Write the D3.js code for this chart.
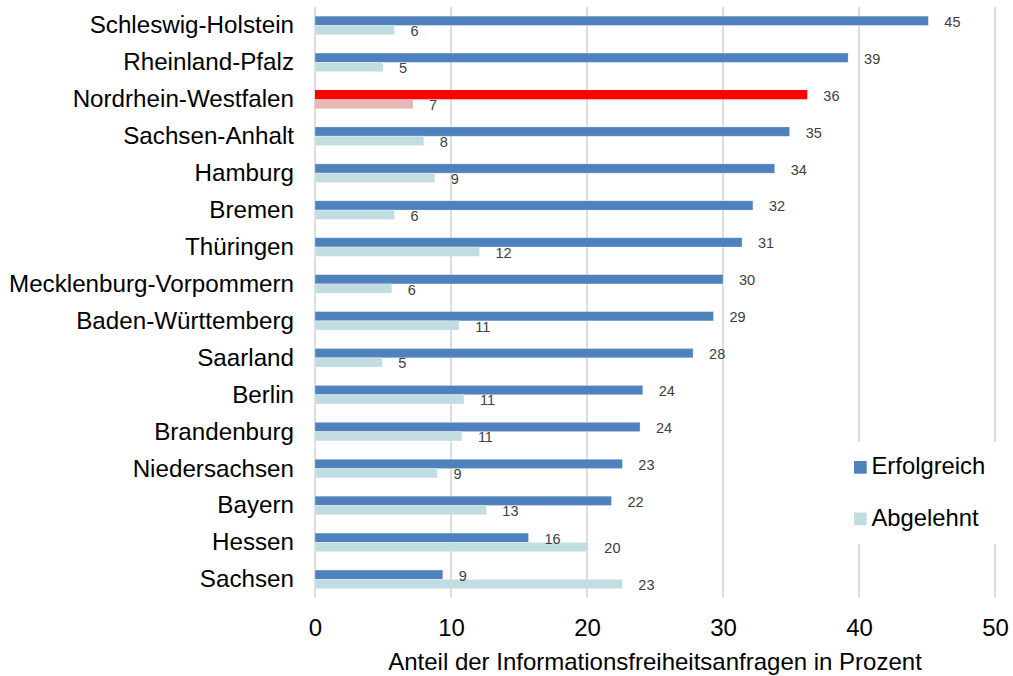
<!DOCTYPE html>
<html>
<head>
<meta charset="utf-8">
<script src="https://cdn.jsdelivr.net/npm/d3@7"></script>
<style>
  html, body { margin: 0; padding: 0; background: #fff; }
  svg { display: block; }
  text { font-family: "Liberation Sans", Arial, sans-serif; }
</style>
</head>
<body>
<svg id="chart" width="1013" height="676"></svg>
<script>
const categories = ["Schleswig-Holstein","Rheinland-Pfalz","Nordrhein-Westfalen","Sachsen-Anhalt","Hamburg","Bremen","Thüringen","Mecklenburg-Vorpommern","Baden-Württemberg","Saarland","Berlin","Brandenburg","Niedersachsen","Bayern","Hessen","Sachsen"];
const erfolgreich = [45.1, 39.2, 36.2, 34.9, 33.8, 32.2, 31.4, 30.0, 29.3, 27.8, 24.1, 23.9, 22.6, 21.8, 15.7, 9.4];
const abgelehnt   = [5.85, 5.0, 7.2, 8.0, 8.8, 5.85, 12.1, 5.65, 10.6, 4.95, 10.95, 10.8, 9.0, 12.6, 20.1, 22.6];
const seriesNames = ["Erfolgreich", "Abgelehnt"];
const xTicks = [0, 10, 20, 30, 40, 50];
const highlight = "Nordrhein-Westfalen";
const axisTitle = "Anteil der Informationsfreiheitsanfragen in Prozent";

const colors = { Erfolgreich: "#4F81BD", Abgelehnt: "#C2DDE2" };
const hiColors = { Erfolgreich: "#FF0000", Abgelehnt: "#E6B8B7" };

const svg = d3.select("#chart");
const x = d3.scaleLinear().domain([0, 50]).range([315, 995]);
const y = d3.scaleBand().domain(categories).range([7, 597.8]).padding(0);
const inner = d3.scaleBand().domain(seriesNames).range([-9.3, 9.3]);

// gridlines
svg.append("g").selectAll("line").data(xTicks).join("line")
  .attr("x1", d => x(d)).attr("x2", d => x(d))
  .attr("y1", 7).attr("y2", 597.5)
  .attr("stroke", "#D9D9D9").attr("stroke-width", 1.75);

const data = categories.map((c, i) => ({ cat: c, Erfolgreich: erfolgreich[i], Abgelehnt: abgelehnt[i] }));

const groups = svg.append("g").selectAll("g").data(data).join("g")
  .attr("transform", d => `translate(0,${y(d.cat) + y.bandwidth() / 2})`);

groups.selectAll("rect").data(d => seriesNames.map(s => ({ s, v: d[s], cat: d.cat }))).join("rect")
  .attr("x", x(0))
  .attr("y", d => inner(d.s))
  .attr("width", d => x(d.v) - x(0))
  .attr("height", inner.bandwidth())
  .attr("fill", d => d.cat === highlight ? hiColors[d.s] : colors[d.s])
  .attr("stroke", d => d.cat === highlight ? "none" : "#ffffff")
  .attr("stroke-opacity", 0.35)
  .attr("stroke-width", 0.8);

groups.selectAll("text.val").data(d => seriesNames.map(s => ({ s, v: d[s] }))).join("text")
  .attr("class", "val")
  .attr("x", d => x(d.v) + 16)
  .attr("y", d => inner(d.s) + inner.bandwidth() / 2 + 6)
  .attr("font-size", 14.5)
  .attr("fill", "#404040")
  .text(d => Math.round(d.v));

// category labels
svg.append("g").selectAll("text").data(categories).join("text")
  .attr("x", 294)
  .attr("y", d => y(d) + y.bandwidth() / 2 + 8)
  .attr("text-anchor", "end")
  .attr("font-size", 24.2)
  .attr("fill", "#000")
  .text(d => d);

// x axis via d3
const xAxis = d3.axisBottom(x).tickValues(xTicks).tickSize(0).tickPadding(0).tickFormat(d3.format("d"));
const gx = svg.append("g").attr("transform", "translate(0,614)").call(xAxis);
gx.select(".domain").remove();
gx.selectAll("text").attr("font-size", 24).attr("fill", "#000").attr("dy", "0.9em")
  .style("font-family", "'Liberation Sans', Arial, sans-serif");

svg.append("text")
  .attr("x", 655).attr("y", 670)
  .attr("text-anchor", "middle")
  .attr("font-size", 24)
  .attr("fill", "#000")
  .text(axisTitle);

// legend
const lg = svg.append("g");
lg.append("rect").attr("x", 845).attr("y", 442).attr("width", 156).attr("height", 102).attr("fill", "#fff");
const li = lg.selectAll("g").data(seriesNames).join("g")
  .attr("transform", (d, i) => `translate(854,${461 + i * 51.5})`);
li.append("rect").attr("width", 12.7).attr("height", 12.7).attr("fill", d => colors[d]);
li.append("text").attr("x", 17.5).attr("y", 13.3).attr("font-size", 23.8).attr("fill", "#000").text(d => d);
</script>
</body>
</html>
